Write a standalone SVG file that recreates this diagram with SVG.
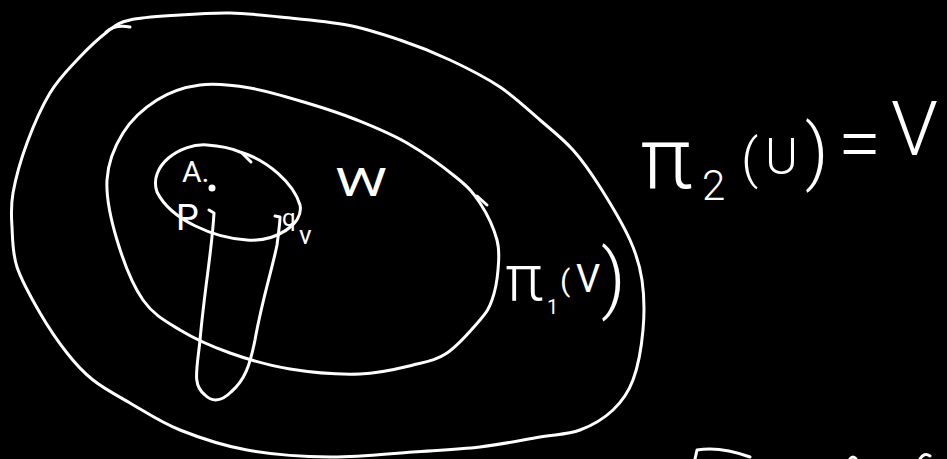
<svg xmlns="http://www.w3.org/2000/svg" width="947" height="459" viewBox="0 0 947 459">
<style>
.s{fill:none;stroke:#fff;stroke-width:3;stroke-linecap:round;stroke-linejoin:round}
.t{fill:#fff;font-family:Roboto,"DejaVu Sans",sans-serif;font-weight:400}
.b{font-weight:300}
</style>
<rect width="947" height="459" fill="#000"/>
<g id="outer">
<path class="s" d="M107,32 C115.8,25.3 117.8,22.8 130,20 C142.2,17.2 163.3,16.2 180,15 C196.7,13.8 213.3,12.7 230,13 C246.7,13.3 260.5,15 280,17 C299.5,19 327,21.2 347,25 C367,28.8 382.8,34.2 400,40 C417.2,45.8 433.3,52.2 450,60 C466.7,67.8 485,77 500,87 C515,97 527.8,109.5 540,120 C552.2,130.5 563,138.8 573,150 C583,161.2 590.5,172 600,187 C609.5,202 623,224.5 630,240 C637,255.5 639.8,265 642,280 C644.2,295 644.5,313.3 643,330 C641.5,346.7 638,366.7 633,380 C628,393.3 621.8,401.7 613,410 C604.2,418.3 592.2,425.5 580,430 C567.8,434.5 556.7,434.2 540,437 C523.3,439.8 501.2,444.5 480,447 C458.8,449.5 438,450.3 413,452 C388,453.7 357.7,457.3 330,457 C302.3,456.7 272,454.5 247,450 C222,445.5 199.5,437.8 180,430 C160.5,422.2 144.5,411.3 130,403 C115.5,394.7 103.5,388.3 93,380 C82.5,371.7 75.8,364.2 67,353 C58.2,341.8 48.3,327.3 40,313 C31.7,298.7 21.7,281.3 17,267 C12.3,252.7 12.7,239.3 12,227 C11.3,214.7 10.5,207 13,193 C15.5,179 20.8,159.7 27,143 C33.2,126.3 41.7,106.8 50,93 C58.3,79.2 67.5,70.2 77,60 C86.5,49.8 98.2,38.7 107,32 Z"/>
<path class="s" d="M106,32 Q115,24 130,27"/>
</g>
<g id="middle">
<path class="s" d="M200,85 C215.5,83 232.2,85 250,88 C267.8,91 289.2,97.7 307,103 C324.8,108.3 340.3,113.3 357,120 C373.7,126.7 390.3,133.3 407,143 C423.7,152.7 444.8,168 457,178 C469.2,188 473.3,192.7 480,203 C486.7,213.3 494,228.8 497,240 C500,251.2 498.8,260 498,270 C497.2,280 495,291.7 492,300 C489,308.3 487.5,311.2 480,320 C472.5,328.8 458.2,345.5 447,353 C435.8,360.5 427.5,361.5 413,365 C398.5,368.5 380.5,373.3 360,374 C339.5,374.7 311.7,372.5 290,369 C268.3,365.5 248.3,359.5 230,353 C211.7,346.5 194.5,338.8 180,330 C165.5,321.2 153.5,315 143,300 C132.5,285 123,260 117,240 C111,220 106,197.8 107,180 C108,162.2 114.7,146.3 123,133 C131.3,119.7 144.2,108 157,100 C169.8,92 184.5,87 200,85 Z"/>
<path class="s" d="M477,196 L487,205"/>
</g>
<g id="inner">
<path class="s" d="M240,152 C268,160 294,184 300,205 C304,224 276,242 247,240 C214,238 171,220 157,192 C148,166 180,143 207,145 C222,146 233,149 240,152 Z"/>
<path class="s" d="M242,153 L251,162"/>
<circle cx="212" cy="188" r="3.5" fill="#fff"/>
</g>
<g id="tube">
<path class="s" d="M209,210 L214,213 C212,250 205,285 200,340 C197,370 192,385 205,395 C212,402 221,402 231,392 C245,380 250,365 255,340 C262,300 272,270 277,245 C279,230 280,222 280,217 L275,216"/>
</g>
<g id="labels">
<text class="t" x="182" y="182" font-size="30">A.</text>
<text class="t" x="176" y="230" font-size="36">P</text>
<text class="t" x="282" y="226" font-size="24">q</text>
<text class="t" x="299" y="244" font-size="26">v</text>
<text class="t" x="335" y="196" font-size="38" textLength="52" lengthAdjust="spacingAndGlyphs">W</text>
<text class="t b" x="505" y="300" font-size="64">π</text>
<text class="t" x="547" y="314" font-size="20">1</text>
<text class="t" x="560" y="291" font-size="30">(</text>
<text class="t" x="576" y="292" font-size="38">V</text>
<text class="t b" x="601" y="304" font-size="76">)</text>
<text class="t b" font-size="88"><tspan x="640" y="188">π</tspan><tspan x="702" y="200" font-size="42">2</tspan><tspan x="741" y="177" font-size="54">(</tspan><tspan x="765" y="174" font-size="50">U</tspan><tspan x="805" y="176" font-size="72">)</tspan><tspan x="838" y="170" font-size="78">=</tspan><tspan x="891" y="155" font-size="76">V</tspan></text>
</g>
<g id="edge-marks">
<path class="s" d="M695,459 L697,450 Q720,446 750,457"/>
<path class="s" d="M850,459 Q853,455 856,459"/>
<path class="s" d="M920,459 Q924,452 930,456"/>
</g>
</svg>
